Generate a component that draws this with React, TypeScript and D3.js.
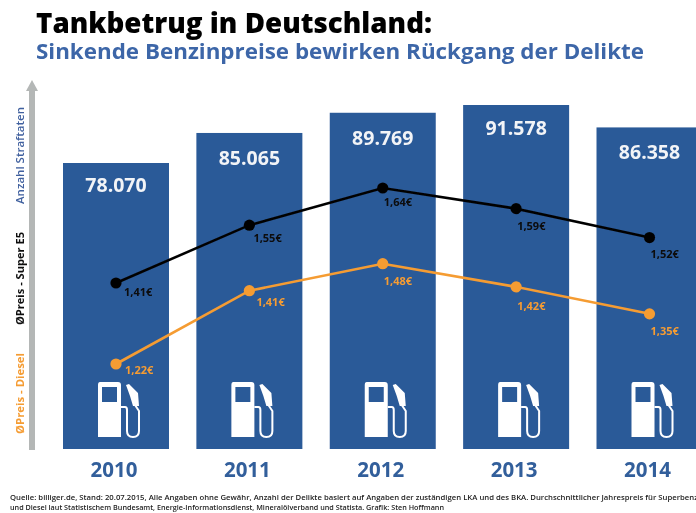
import React from "react";
import * as d3 from "d3";

const years = ["2010", "2011", "2012", "2013", "2014"];
const offences = [78070, 85065, 89769, 91578, 86358];
const offenceLabels = ["78.070", "85.065", "89.769", "91.578", "86.358"];
const superPrices = [1.41, 1.55, 1.64, 1.59, 1.52];
const dieselPrices = [1.22, 1.41, 1.48, 1.42, 1.35];

const title = "Tankbetrug in Deutschland:";
const subtitle = "Sinkende Benzinpreise bewirken Rückgang der Delikte";
const footer1 =
  "Quelle: billiger.de, Stand: 20.07.2015, Alle Angaben ohne Gewähr, Anzahl der Delikte basiert auf Angaben der zuständigen LKA und des BKA. Durchschnittlicher Jahrespreis für Superbenzin";
const footer2 =
  "und Diesel laut Statistischem Bundesamt, Energie-Informationsdienst, Mineralölverband und Statista. Grafik: Sten Hoffmann";

const BLUE = "#2c5a98";
const ORANGE = "#f59c33";
const FONT = "'Open Sans', sans-serif";
const BAR_W = 106;
const BAR_BOTTOM = 449;

const x = d3.scalePoint<string>().domain(years).range([116, 649.5]);
const yBar = d3.scaleLinear().domain([78070, 91578]).range([163, 105]);
const ySuper = d3.scaleLinear().domain([1.41, 1.64]).range([283, 188]);
const yDiesel = d3.scaleLinear().domain([1.22, 1.48]).range([364, 263.7]);

const barLabelDrop = [29, 32, 32, 30, 32];
const superLabelOffset = [[8, 13], [4, 17], [1, 18], [1, 21.5], [1, 20.5]];
const dieselLabelOffset = [[9, 10], [7, 15], [1, 21], [1, 23], [1, 21]];

const euro = (v: number) => v.toFixed(2).replace(".", ",") + "€";

function Pump({ cx }: { cx: number }) {
  return (
    <g transform={`translate(${cx - 19},381)`}>
      <path
        fillRule="evenodd"
        fill="#fff"
        d="M3,1 H21 Q24,1 24,4 V56 H1 V4 Q1,1 3,1 Z M5,6 V21 H20 V6 Z"
      />
      <path
        fill="none"
        stroke="#fff"
        strokeWidth={2}
        strokeLinejoin="round"
        d="M24,26 H28 Q30,26 30,29 V50 Q30,56 36,56 Q42,56 42,50 V30 L38,24"
      />
      <path fill="#fff" d="M29,4 L32,3 L41,12 L42,25 L36,25 L33,15 Z" />
    </g>
  );
}

export default function App() {
  const superLine = d3.line<number>().x((_, i) => x(years[i])!).y((d) => ySuper(d));
  const dieselLine = d3.line<number>().x((_, i) => x(years[i])!).y((d) => yDiesel(d));
  return (
    <svg
      width={696}
      height={513}
      viewBox="0 0 696 513"
      style={{ position: "absolute", left: 0, top: 0, background: "#fff" }}
      fontFamily={FONT}
    >
      <defs>
        <filter id="soft" x="0" y="0" width="100%" height="100%">
          <feGaussianBlur stdDeviation="0.7" />
        </filter>
      </defs>
      <g filter="url(#soft)">
        <rect width={696} height={513} fill="#fff" />
        <text x={36} y={33} fontSize={28} fontWeight={800} fill="#050505" textLength={396} lengthAdjust="spacingAndGlyphs">
          {title}
        </text>
        <text x={36} y={59} fontSize={21.5} fontWeight={700} fill="#3c66a8" textLength={608} lengthAdjust="spacingAndGlyphs">
          {subtitle}
        </text>

        <rect x={29} y={90} width={6} height={360} fill="#b4b7b6" />
        <path d="M32,80 L38,91 H26 Z" fill="#b4b7b6" />

        <text transform="translate(24,204) rotate(-90)" fontSize={10} fontWeight={600} fill="#41619f" textLength={97} lengthAdjust="spacingAndGlyphs">
          Anzahl Straftaten
        </text>
        <text transform="translate(24,325) rotate(-90)" fontSize={10} fontWeight={700} fill="#111" textLength={93} lengthAdjust="spacingAndGlyphs">
          ØPreis - Super E5
        </text>
        <text transform="translate(24,434) rotate(-90)" fontSize={10} fontWeight={700} fill={ORANGE} textLength={81} lengthAdjust="spacingAndGlyphs">
          ØPreis - Diesel
        </text>

        {years.map((yr, i) => {
          const cx = x(yr)!;
          const top = yBar(offences[i]);
          return (
            <g key={yr}>
              <rect x={cx - BAR_W / 2} y={top} width={BAR_W} height={BAR_BOTTOM - top} fill={BLUE} />
              <text x={cx} y={top + barLabelDrop[i]} textAnchor="middle" fontSize={19.5} fontWeight={700} fill="#f2f4f7">
                {offenceLabels[i]}
              </text>
              <Pump cx={cx} />
              <text x={cx - 2} y={477} textAnchor="middle" fontSize={20.5} fontWeight={700} fill="#325e9b">
                {yr}
              </text>
            </g>
          );
        })}

        <path d={superLine(superPrices)!} fill="none" stroke="#050505" strokeWidth={2.6} />
        <path d={dieselLine(dieselPrices)!} fill="none" stroke={ORANGE} strokeWidth={2.6} />

        {superPrices.map((v, i) => (
          <g key={"s" + i}>
            <circle cx={x(years[i])!} cy={ySuper(v)} r={5.6} fill="#050505" />
            <text
              x={x(years[i])! + superLabelOffset[i][0]}
              y={ySuper(v) + superLabelOffset[i][1]}
              fontSize={11}
              fontWeight={700}
              fill="#0a0a0a"
            >
              {euro(v)}
            </text>
          </g>
        ))}
        {dieselPrices.map((v, i) => (
          <g key={"d" + i}>
            <circle cx={x(years[i])!} cy={yDiesel(v)} r={5.6} fill={ORANGE} />
            <text
              x={x(years[i])! + dieselLabelOffset[i][0]}
              y={yDiesel(v) + dieselLabelOffset[i][1]}
              fontSize={11}
              fontWeight={700}
              fill={ORANGE}
            >
              {euro(v)}
            </text>
          </g>
        ))}

        <text x={10} y={500} fontSize={6.6} fontWeight={600} fill="#222" textLength={695} lengthAdjust="spacingAndGlyphs">
          {footer1}
        </text>
        <text x={10} y={510} fontSize={6.6} fontWeight={600} fill="#222" textLength={434} lengthAdjust="spacingAndGlyphs">
          {footer2}
        </text>
      </g>
    </svg>
  );
}
